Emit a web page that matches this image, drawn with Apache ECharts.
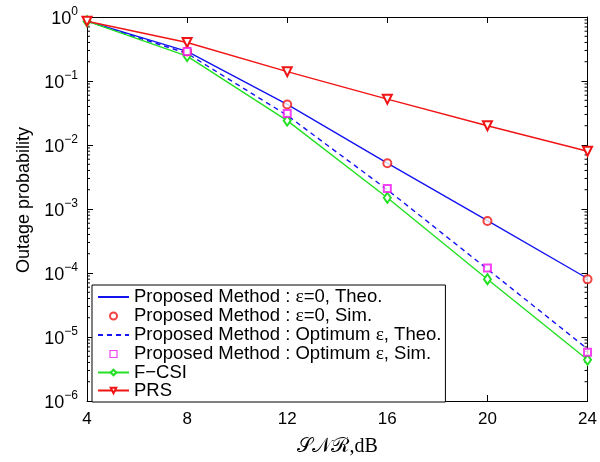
<!DOCTYPE html>
<html><head><meta charset="utf-8">
<script src="https://cdn.jsdelivr.net/npm/echarts@6/dist/echarts.min.js"></script>
<style>html,body{margin:0;padding:0;background:#fff}#c{width:600px;height:462px}</style>
</head><body><div id="c"></div>
<script>
const xValues = [4, 8, 12, 16, 20, 24];
const theoZero = [0.86, 0.29, 0.043, 0.0052, 0.00066, 8.2e-5];
const simZero = [null, 0.29, 0.043, 0.0052, 0.00065, 8.0e-5];
const theoOpt = [0.86, 0.27, 0.029, 0.0020, 1.15e-4, 6.5e-6];
const simOpt = [null, 0.29, 0.031, 0.0021, 1.2e-4, 5.8e-6];
const fcsi = [0.86, 0.245, 0.024, 0.0015, 8.0e-5, 4.4e-6];
const prs = [0.86, 0.40, 0.14, 0.052, 0.020, 0.0080];
const seriesNames = [
  'Proposed Method : ε=0, Theo.',
  'Proposed Method : ε=0, Sim.',
  'Proposed Method : Optimum ε, Theo.',
  'Proposed Method : Optimum ε, Sim.',
  'F−CSI',
  'PRS'
];

const pairs = arr => xValues.map((x, i) => [x, arr[i]]).filter(p => p[1] != null);
const minorVals = [];
for (let d = -6; d < 0; d++) for (let m = 2; m <= 9; m++) minorVals.push(m * Math.pow(10, d));

const FONT = '"Liberation Sans", Arial, sans-serif';
const BLUE = '#1414f0', RED = '#f01414', GREEN = '#22e022', MAG = '#f014f0';
const chart = echarts.init(document.getElementById('c'));
const axisLine = {show: true, lineStyle: {color: '#000', width: 1}};
const tick = {show: true, inside: true, length: 6, lineStyle: {color: '#000'}};
chart.setOption({
  animation: false,
  backgroundColor: '#fff',
  grid: {left: 87, right: 12, top: 17, bottom: 58},
  xAxis: [{
    type: 'value', min: 4, max: 24, interval: 4,
    axisLine, axisTick: tick, splitLine: {show: false},
    axisLabel: {color: '#000', fontSize: 17, fontFamily: FONT, margin: 10},
    name: '𝒮𝒩ℛ,dB', nameLocation: 'middle', nameGap: 36,
    nameTextStyle: {color: '#000', fontSize: 20, fontFamily: '"Liberation Serif", "DejaVu Serif", serif'}
  }, {
    type: 'value', min: 4, max: 24, interval: 4, position: 'top',
    axisLine, axisTick: tick, axisLabel: {show: false}, splitLine: {show: false}
  }],
  yAxis: [{
    type: 'log', logBase: 10, min: 1e-6, max: 1,
    axisLine, axisTick: tick, splitLine: {show: false},
    axisLabel: {
      color: '#000', margin: 9,
      formatter: v => {
        const e = Math.round(Math.log10(v));
        return '{b|10}{s|' + (e < 0 ? '−' + (-e) : e) + '}';
      },
      rich: {
        b: {fontSize: 18, fontFamily: FONT, color: '#000', verticalAlign: 'bottom', lineHeight: 22},
        s: {fontSize: 12, fontFamily: FONT, color: '#000', verticalAlign: 'bottom', lineHeight: 22, padding: [0, 0, 10, 0]}
      }
    },
    name: 'Outage probability', nameLocation: 'middle', nameGap: 54,
    nameTextStyle: {color: '#000', fontSize: 18, fontFamily: FONT, padding: [0, 0, 0, 18]}
  }, {
    type: 'log', logBase: 10, min: 1e-6, max: 1, position: 'right',
    axisLine, axisTick: tick, axisLabel: {show: false}, splitLine: {show: false}
  }],
  legend: {
    orient: 'vertical', left: 92, top: 285,
    data: [
      {name: seriesNames[0], itemStyle: {opacity: 0}},
      {name: seriesNames[1]},
      {name: seriesNames[2], itemStyle: {opacity: 0}},
      {name: seriesNames[3], icon: 'path://M0,0H10V10H0Z', itemStyle: {color: '#fff', borderColor: MAG, borderWidth: 1.2}},
      {name: seriesNames[4]},
      {name: seriesNames[5]}
    ],
    symbolKeepAspect: true,
    backgroundColor: '#fff', borderColor: '#000', borderWidth: 1, borderRadius: 0,
    padding: [2, 4, 2, 5],
    itemWidth: 31, itemHeight: 7, itemGap: -1,
    formatter: n => n.replace(/ε/g, '{e|ε}'),
    textStyle: {
      color: '#000', fontSize: 18.5, fontFamily: FONT, lineHeight: 14,
      rich: {e: {fontSize: 19.5, fontFamily: '"Liberation Serif", serif', color: '#000', lineHeight: 14}}
    }
  },
  series: [
    {
      name: seriesNames[0], type: 'line', data: pairs(theoZero), symbol: 'none',
      lineStyle: {color: BLUE, width: 1.4}, itemStyle: {color: BLUE}, z: 2
    },
    {
      name: seriesNames[1], type: 'scatter', data: pairs(simZero), symbol: 'emptyCircle', symbolSize: 8,
      itemStyle: {color: RED, borderWidth: 1}, z: 5
    },
    {
      name: seriesNames[2], type: 'line', data: pairs(theoOpt), symbol: 'none',
      lineStyle: {color: BLUE, width: 1.4, type: [5, 4]}, itemStyle: {color: BLUE}, z: 2
    },
    {
      name: seriesNames[3], type: 'scatter', data: pairs(simOpt), symbol: 'emptyRect', symbolSize: 7,
      itemStyle: {color: MAG, borderWidth: 1}, z: 5
    },
    {
      name: seriesNames[4], type: 'line', data: pairs(fcsi), symbol: 'emptyDiamond', symbolSize: [7, 10],
      showAllSymbol: true,
      lineStyle: {color: GREEN, width: 1.4}, itemStyle: {color: GREEN, borderWidth: 1}, z: 3
    },
    {
      name: seriesNames[5], type: 'line', data: pairs(prs), symbol: 'emptyTriangle', symbolSize: 9,
      symbolRotate: 180, showAllSymbol: true,
      lineStyle: {color: RED, width: 1.4}, itemStyle: {color: RED, borderWidth: 1}, z: 4
    },
    {
      type: 'custom', data: minorVals.map(v => [4, v]), silent: true, clip: false, z: 1,
      renderItem: (params, api) => {
        const v = api.value(1);
        const l = api.coord([4, v]);
        const r = api.coord([24, v]);
        const st = {stroke: '#000', lineWidth: 1};
        return {type: 'group', children: [
          {type: 'line', shape: {x1: l[0], y1: l[1], x2: l[0] + 3, y2: l[1]}, style: st},
          {type: 'line', shape: {x1: r[0], y1: r[1], x2: r[0] - 3, y2: r[1]}, style: st}
        ]};
      }
    }
  ]
});
</script></body></html>
